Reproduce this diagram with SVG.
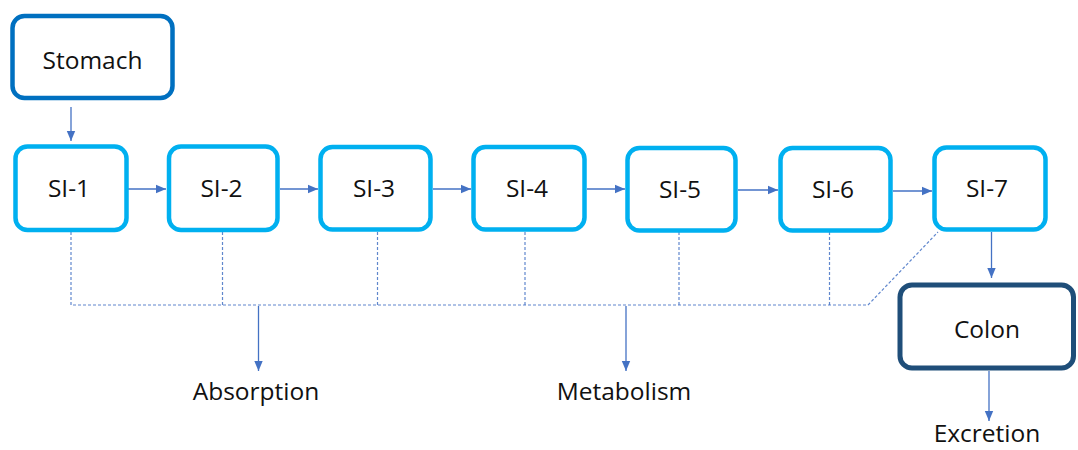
<svg xmlns="http://www.w3.org/2000/svg" width="1078" height="450" viewBox="0 0 1078 450">
<defs>
<marker id="ah" markerUnits="userSpaceOnUse" markerWidth="10" markerHeight="10" viewBox="0 0 10 10" refX="10" refY="5" orient="auto">
<path d="M0,0.8 L10,5 L0,9.2 Z" fill="#4472C4"/>
</marker>
<style>
.si{fill:#fff;stroke:#00B0F0;stroke-width:4.5}
.st{fill:#fff;stroke:#0070C0;stroke-width:4.5}
.co{fill:#fff;stroke:#1F4E79;stroke-width:5}
text{font-family:"Open Sans","Liberation Sans",sans-serif;font-size:24.5px;fill:#111;text-anchor:middle}
.arr{stroke:#4472C4;stroke-width:1.3;fill:none;marker-end:url(#ah)}
.dash{stroke:#4472C4;stroke-width:1.2;fill:none;stroke-dasharray:3 2;opacity:0.85}
</style>
</defs>
<rect width="1078" height="450" fill="#fff"/>
<g id="connectors">
<line class="arr" x1="71" y1="107" x2="71" y2="141"/>
<line class="arr" x1="128" y1="189" x2="166" y2="189"/>
<line class="arr" x1="280" y1="189" x2="318" y2="189"/>
<line class="arr" x1="433" y1="189" x2="471" y2="189"/>
<line class="arr" x1="587" y1="189" x2="625" y2="189"/>
<line class="arr" x1="738" y1="190" x2="778" y2="190"/>
<line class="arr" x1="893" y1="191" x2="932" y2="191"/>
<line class="arr" x1="991.5" y1="232" x2="991.5" y2="278"/>
<line class="arr" x1="989" y1="371" x2="989" y2="421"/>
<path class="dash" d="M71,232 V305 H868 L938,232"/>
<line class="dash" x1="222.5" y1="232" x2="222.5" y2="305"/>
<line class="dash" x1="377.5" y1="232" x2="377.5" y2="305"/>
<line class="dash" x1="525" y1="232" x2="525" y2="305"/>
<line class="dash" x1="679" y1="232" x2="679" y2="305"/>
<line class="dash" x1="829.5" y1="232" x2="829.5" y2="305"/>
<line class="arr" x1="258.5" y1="306" x2="258.5" y2="371"/>
<line class="arr" x1="626" y1="306" x2="626" y2="371"/>
</g>
<g id="stomach"><rect class="st" x="12.5" y="16" width="160" height="82" rx="12"/><text x="92.5" y="69">Stomach</text></g>
<g id="si1"><rect class="si" x="15.5" y="146.5" width="111" height="83.5" rx="12"/><text x="69" y="197">SI-1</text></g>
<g id="si2"><rect class="si" x="169" y="146.5" width="108.5" height="83.5" rx="12"/><text x="221.5" y="197">SI-2</text></g>
<g id="si3"><rect class="si" x="320.5" y="147" width="110" height="82.5" rx="12"/><text x="374" y="197">SI-3</text></g>
<g id="si4"><rect class="si" x="473.5" y="147" width="111" height="82.5" rx="12"/><text x="527" y="197">SI-4</text></g>
<g id="si5"><rect class="si" x="627.5" y="148" width="108" height="82.5" rx="12"/><text x="680" y="198">SI-5</text></g>
<g id="si6"><rect class="si" x="780.5" y="148" width="110" height="82.5" rx="12"/><text x="833" y="198">SI-6</text></g>
<g id="si7"><rect class="si" x="934.5" y="147.5" width="111" height="82" rx="12"/><text x="987" y="197">SI-7</text></g>
<g id="colon"><rect class="co" x="900" y="285" width="173.5" height="83" rx="12"/><text x="987" y="338">Colon</text></g>
<g id="absorption"><text x="256" y="400">Absorption</text></g>
<g id="metabolism"><text x="624" y="400">Metabolism</text></g>
<g id="excretion"><text x="987" y="442">Excretion</text></g>
</svg>
